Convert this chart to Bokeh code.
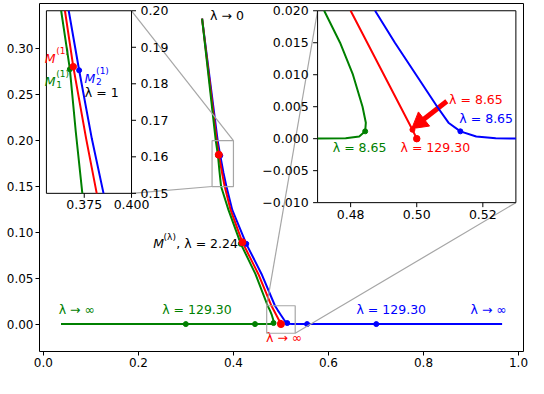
import math
from bokeh.plotting import figure
from bokeh.models import Range1d, FixedTicker, PrintfTickFormatter
from bokeh.core.properties import value
from bokeh.embed import file_html
from bokeh.resources import INLINE

# ---------------- data ----------------
red_x = [0.334, 0.3648, 0.3692, 0.3760, 0.3816, 0.3940, 0.4189, 0.4523, 0.4800, 0.4987, 0.5000]
red_y = [0.333, 0.2000, 0.1847, 0.1650, 0.1500, 0.1245, 0.0892, 0.0547, 0.0200, 0.0014, 0.0000]

green_x = [0.334, 0.3628, 0.3674, 0.3705, 0.3740, 0.3895, 0.4155, 0.4462, 0.4720, 0.4768, 0.4807,
           0.4836, 0.4846, 0.4844, 0.4826, 0.4785, 0.4454, 0.2998, 0.0370]
green_y = [0.333, 0.2000, 0.1840, 0.1670, 0.1500, 0.1245, 0.0875, 0.0547, 0.0200, 0.0150, 0.0100,
           0.0050, 0.0025, 0.00115, 0.00035, 0.00005, 0.0, 0.0, 0.0]

blue_x = [0.334, 0.3668, 0.3723, 0.3790, 0.3852, 0.3975, 0.4270, 0.4591, 0.4874, 0.4934, 0.4998,
          0.5062, 0.5096, 0.5132, 0.5180, 0.5239, 0.5550, 0.7006, 0.9655]
blue_y = [0.333, 0.2000, 0.1837, 0.1650, 0.1500, 0.1245, 0.0875, 0.0547, 0.0200, 0.0150, 0.0100,
          0.0050, 0.0025, 0.00115, 0.00035, 0.00005, 0.0, 0.0, 0.0]

# marked points
red_big_x = [0.3692, 0.4189, 0.5000]      # lambda = 1, 2.24, 129.30 / inf
red_big_y = [0.1847, 0.0892, 0.0000]
red_small_x = [0.4987]                    # lambda = 8.65
red_small_y = [0.0014]
green_pts_x = [0.3674, 0.4155, 0.4844, 0.4454, 0.2998]
green_pts_y = [0.1840, 0.0875, 0.00115, 0.0, 0.0]
blue_pts_x = [0.3723, 0.4270, 0.5132, 0.5550, 0.7006]
blue_pts_y = [0.1837, 0.0875, 0.00115, 0.0, 0.0]

# axes ticks
main_x_ticks = [0.0, 0.2, 0.4, 0.6, 0.8, 1.0]
main_y_ticks = [0.0, 0.05, 0.10, 0.15, 0.20, 0.25, 0.30]

insetA_xlim = (0.355, 0.40)
insetA_ylim = (0.15, 0.20)
insetA_x_ticks = [0.375, 0.400]
insetA_x_labels = ["0.375", "0.400"]
insetA_y_ticks = [0.15, 0.16, 0.17, 0.18, 0.19, 0.20]
insetA_y_labels = ["0.15", "0.16", "0.17", "0.18", "0.19", "0.20"]

insetB_xlim = (0.47, 0.53)
insetB_ylim = (-0.01, 0.02)
insetB_x_ticks = [0.48, 0.50, 0.52]
insetB_x_labels = ["0.48", "0.50", "0.52"]
insetB_y_ticks = [-0.010, -0.005, 0.0, 0.005, 0.010, 0.015, 0.020]
insetB_y_labels = ["\u22120.010", "\u22120.005", "0.000", "0.005", "0.010", "0.015", "0.020"]

# ---------------- layout ----------------
FONT = value("DejaVu Sans")
RED, GREEN, BLUE = "#ff0000", "#008000", "#0000ff"
GRAY = "#a6a6a6"
FS = "12.5px"

SX, SY = 528 / 544, 378 / 394            # reference pixels -> figure pixels
X0_REF, XS_REF = 44.2, 489.5             # reference pixel mapping of data
Y0_REF, YS_REF = 337.3, 956.0
F_LEFT, F_TOP, F_W, F_H = 39, 3, 484, 348


def px2x(px):
    return (px - X0_REF) / XS_REF


def py2y(py):
    return (Y0_REF - py) / YS_REF


p = figure(frame_width=F_W, frame_height=F_H,
           x_range=Range1d(px2x(F_LEFT / SX), px2x((F_LEFT + F_W) / SX)),
           y_range=Range1d(py2y((F_TOP + F_H) / SY), py2y(F_TOP / SY)),
           output_backend="svg", toolbar_location=None,
           min_border_left=F_LEFT, min_border_right=5,
           min_border_top=F_TOP, min_border_bottom=20)
p.xgrid.visible = False
p.ygrid.visible = False
p.outline_line_color = "black"
p.outline_line_width = 1
p.xaxis.ticker = FixedTicker(ticks=main_x_ticks)
p.yaxis.ticker = FixedTicker(ticks=main_y_ticks)
p.xaxis.formatter = PrintfTickFormatter(format="%.1f")
p.yaxis.formatter = PrintfTickFormatter(format="%.2f")
for ax in (p.xaxis[0], p.yaxis[0]):
    ax.axis_line_color = None
    ax.major_tick_out = 4
    ax.major_tick_in = 0
    ax.major_tick_line_color = "black"
    ax.minor_tick_line_color = None
    ax.major_label_text_font = "DejaVu Sans"
    ax.major_label_text_font_size = "12px"
    ax.major_label_text_color = "black"
    ax.major_label_standoff = 2

LW = 2.0


def clip_poly(xs, ys, x0, x1, y0, y1):
    pieces, cur = [], []
    for i in range(len(xs) - 1):
        ax_, ay_, bx_, by_ = xs[i], ys[i], xs[i + 1], ys[i + 1]
        dx, dy = bx_ - ax_, by_ - ay_
        t0, t1, ok = 0.0, 1.0, True
        for pp, qq in ((-dx, ax_ - x0), (dx, x1 - ax_), (-dy, ay_ - y0), (dy, y1 - ay_)):
            if pp == 0:
                if qq < 0:
                    ok = False
                    break
            else:
                r = qq / pp
                if pp < 0:
                    if r > t1:
                        ok = False
                        break
                    t0 = max(t0, r)
                else:
                    if r < t0:
                        ok = False
                        break
                    t1 = min(t1, r)
        if not ok:
            if cur:
                pieces.append(cur)
                cur = []
            continue
        P = (ax_ + t0 * dx, ay_ + t0 * dy)
        Q = (ax_ + t1 * dx, ay_ + t1 * dy)
        if not cur:
            cur = [P]
        elif t0 > 0:
            pieces.append(cur)
            cur = [P]
        cur.append(Q)
        if t1 < 1:
            pieces.append(cur)
            cur = []
    if cur:
        pieces.append(cur)
    return [[a[0] for a in c] for c in pieces], [[a[1] for a in c] for c in pieces]


def draw_curves(api, clip=None):
    for xs, ys, col in ((blue_x, blue_y, BLUE), (red_x, red_y, RED), (green_x, green_y, GREEN)):
        if clip is None:
            api.line(xs, ys, line_color=col, line_width=LW)
        else:
            cx, cy = clip_poly(xs, ys, *clip)
            api.multi_line(cx, cy, line_color=col, line_width=LW)


def draw_points(api):
    api.scatter(green_pts_x, green_pts_y, size=5, color=GREEN)
    api.scatter(blue_pts_x, blue_pts_y, size=5, color=BLUE)
    api.scatter(red_small_x, red_small_y, size=5, color=RED)
    api.scatter(red_big_x, red_big_y, size=7, color=RED)


# ---------------- main axes ----------------
draw_curves(p)
draw_points(p)

TXT = dict(text_font=FONT, text_font_size=FS, text_baseline="middle", text_align="left")
p.text(x=[0.3508], y=[0.3363], text=["\u03bb \u2192 0"], text_color="black", **TXT)
p.text(x=[0.0323, 0.250], y=[0.0155, 0.0155], text=["\u03bb \u2192 \u221e", "\u03bb = 129.30"],
       text_color=GREEN, **TXT)
p.text(x=[0.659, 0.899], y=[0.0155, 0.0155], text=["\u03bb = 129.30", "\u03bb \u2192 \u221e"],
       text_color=BLUE, **TXT)
p.text(x=[0.4686], y=[-0.0151], text=["\u03bb \u2192 \u221e"], text_color=RED, **TXT)

# "M^(lambda), lambda = 2.24"
lab_x, lab_y = 0.4095, 0.088
p.text(x=[lab_x], y=[lab_y], text=[", \u03bb = 2.24"], text_font=FONT, text_font_size=FS,
       text_align="right", text_baseline="alphabetic", text_color="black")
p.text(x=[lab_x], y=[lab_y], text=["(\u03bb)"], text_font=FONT, text_font_size="9px",
       text_align="right", text_baseline="alphabetic", text_color="black", x_offset=-62, y_offset=-6)
p.text(x=[lab_x], y=[lab_y], text=["M"], text_font=FONT, text_font_size=FS, text_font_style="italic",
       text_align="right", text_baseline="alphabetic", text_color="black", x_offset=-74)

# zoom indicators
for (xl, yl) in ((insetA_xlim, insetA_ylim), (insetB_xlim, insetB_ylim)):
    p.quad(left=[xl[0]], right=[xl[1]], bottom=[yl[0]], top=[yl[1]], fill_color=None,
           line_color=GRAY, line_width=1.2)

A_BOX = (47.3, 135.0, 10.7, 201.0)    # reference px: left, right, top, bottom
B_BOX = (326.7, 531.0, 10.7, 210.7)

p.segment(x0=[insetA_xlim[1], insetA_xlim[0]], y0=[insetA_ylim[1], insetA_ylim[0]],
          x1=[px2x(A_BOX[1]), px2x(A_BOX[1])], y1=[py2y(A_BOX[2]), py2y(A_BOX[3])],
          line_color=GRAY, line_width=1.2)
p.segment(x0=[insetB_xlim[0], insetB_xlim[1]], y0=[insetB_ylim[1], insetB_ylim[0]],
          x1=[px2x(B_BOX[0]), px2x(B_BOX[1])], y1=[py2y(B_BOX[2]), py2y(B_BOX[3])],
          line_color=GRAY, line_width=1.2)


def make_inset(xlim, ylim, box):
    l, r, t, b = box
    api = p.subplot(x_source=Range1d(*xlim), y_source=Range1d(*ylim),
                    x_target=Range1d(px2x(l), px2x(r)), y_target=Range1d(py2y(b), py2y(t)))
    api.quad(left=[xlim[0]], right=[xlim[1]], bottom=[ylim[0]], top=[ylim[1]],
             fill_color="white", line_color="black", line_width=1)
    return api


def inset_ticks(api, xlim, ylim, box, xt, xl, yt, yl, yside):
    l, r, t, b = box
    dxu = (xlim[1] - xlim[0]) / ((r - l) * SX)
    dyu = (ylim[1] - ylim[0]) / ((b - t) * SY)
    tick = 4.5
    api.segment(x0=xt, y0=[ylim[0]] * len(xt), x1=xt, y1=[ylim[0] - tick * dyu] * len(xt),
                line_color="black", line_width=1)
    api.text(x=xt, y=[ylim[0]] * len(xt), text=xl, text_font=FONT, text_font_size=FS,
             text_align="center", text_baseline="top", y_offset=7, text_color="black")
    if yside == "right":
        xe, sgn, align = xlim[1], 1, "left"
    else:
        xe, sgn, align = xlim[0], -1, "right"
    api.segment(x0=[xe] * len(yt), y0=yt, x1=[xe + sgn * tick * dxu] * len(yt), y1=yt,
                line_color="black", line_width=1)
    api.text(x=[xe] * len(yt), y=yt, text=yl, text_font=FONT, text_font_size=FS,
             text_align=align, text_baseline="middle", x_offset=sgn * 9, text_color="black")


# ---------------- inset A (lambda = 1) ----------------
ia = make_inset(insetA_xlim, insetA_ylim, A_BOX)


def m_label(api, x, y, col, sub=None):
    api.text(x=[x], y=[y], text=["M"], text_font=FONT, text_font_size=FS, text_font_style="italic",
             text_align="left", text_baseline="alphabetic", text_color=col)
    api.text(x=[x], y=[y], text=["(1)"], text_font=FONT, text_font_size="9px",
             text_align="left", text_baseline="alphabetic", text_color=col, x_offset=11.5, y_offset=-8)
    if sub is not None:
        api.text(x=[x], y=[y], text=[sub], text_font=FONT, text_font_size="9px",
                 text_align="left", text_baseline="alphabetic", text_color=col, x_offset=11.5, y_offset=3)


m_label(ia, 0.3541, 0.1869, RED)
m_label(ia, 0.3541, 0.1805, GREEN, "1")
m_label(ia, 0.3752, 0.1814, BLUE, "2")
ia.text(x=[0.3753], y=[0.1776], text=["\u03bb = 1"], text_font=FONT, text_font_size=FS,
        text_align="left", text_baseline="alphabetic", text_color="black")

draw_curves(ia, clip=(insetA_xlim[0], insetA_xlim[1], insetA_ylim[0], insetA_ylim[1]))
ia.scatter(green_pts_x[:1], green_pts_y[:1], size=5, color=GREEN)
ia.scatter(blue_pts_x[:1], blue_pts_y[:1], size=5, color=BLUE)
ia.scatter(red_big_x[:1], red_big_y[:1], size=6.5, color=RED)
inset_ticks(ia, insetA_xlim, insetA_ylim, A_BOX, insetA_x_ticks, insetA_x_labels,
            insetA_y_ticks, insetA_y_labels, "right")

# ---------------- inset B (lambda large) ----------------
ib = make_inset(insetB_xlim, insetB_ylim, B_BOX)

# arrow from the red label to the red lambda = 8.65 point
tip_x, tip_y = 0.49853, 0.0016
tail_x, tail_y = 0.5091, 0.00585
head_frac = 0.23
hx = tip_x + head_frac * (tail_x - tip_x)
hy = tip_y + head_frac * (tail_y - tip_y)
ib.segment(x0=[tail_x], y0=[tail_y], x1=[hx], y1=[hy], line_color=RED, line_width=5)
ib.scatter([hx], [hy], marker="triangle", size=18, angle=math.radians(128.2), color=RED)

draw_curves(ib, clip=(insetB_xlim[0], insetB_xlim[1], insetB_ylim[0], insetB_ylim[1]))
ib.scatter(green_pts_x[2:3], green_pts_y[2:3], size=5, color=GREEN)
ib.scatter(blue_pts_x[2:3], blue_pts_y[2:3], size=5, color=BLUE)
ib.scatter(red_small_x, red_small_y, size=5, color=RED)
ib.scatter(red_big_x[2:], red_big_y[2:], size=6.5, color=RED)

TB = dict(text_font=FONT, text_font_size=FS, text_baseline="middle", text_align="left")
ib.text(x=[0.5098], y=[0.00607], text=["\u03bb = 8.65"], text_color=RED, **TB)
ib.text(x=[0.5129], y=[0.00315], text=["\u03bb = 8.65"], text_color=BLUE, **TB)
ib.text(x=[0.4746], y=[-0.00135], text=["\u03bb = 8.65"], text_color=GREEN, **TB)
ib.text(x=[0.4951], y=[-0.00135], text=["\u03bb = 129.30"], text_color=RED, **TB)
inset_ticks(ib, insetB_xlim, insetB_ylim, B_BOX, insetB_x_ticks, insetB_x_labels,
            insetB_y_ticks, insetB_y_labels, "left")

open("out.html", "w").write(file_html(p, INLINE))
